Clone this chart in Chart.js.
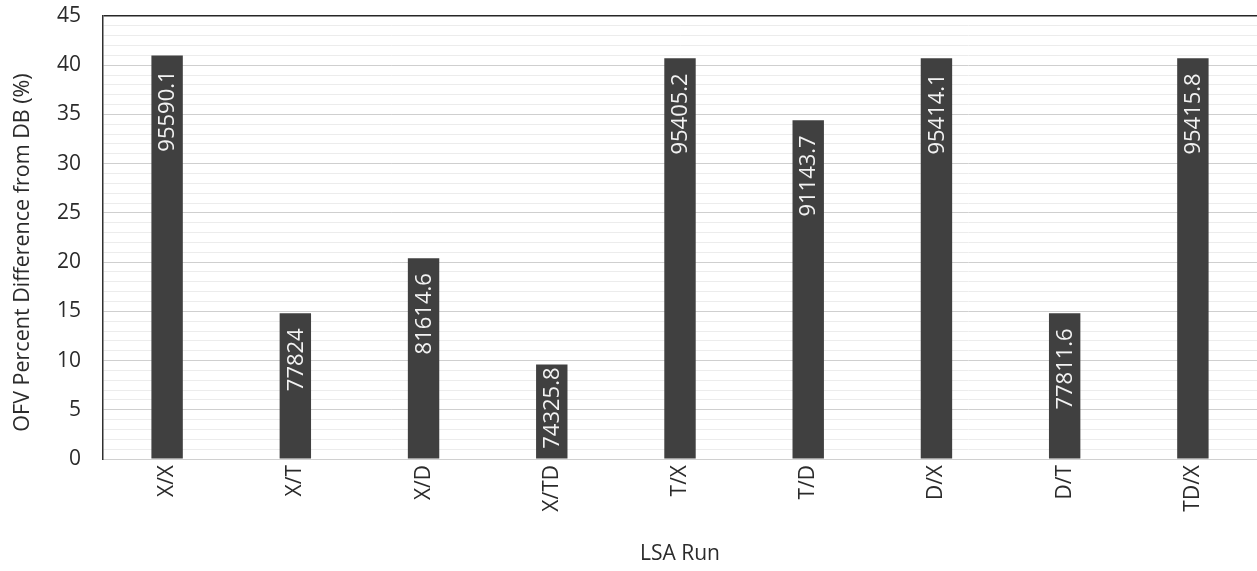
<!DOCTYPE html>
<html>
<head>
<meta charset="utf-8">
<script src="https://cdn.jsdelivr.net/npm/chart.js@4/dist/chart.umd.min.js"></script>
<style>
  html, body { margin: 0; padding: 0; background: #ffffff; }
  #wrap { width: 1257px; height: 571px; }
</style>
</head>
<body>
<div id="wrap"><canvas id="c" width="1257" height="571"></canvas></div>
<script>
// LSA runs and their objective function values
const runs = ['X/X', 'X/T', 'X/D', 'X/TD', 'T/X', 'T/D', 'D/X', 'D/T', 'TD/X'];
const pctDiff = [41.0, 14.8, 20.4, 9.6, 40.7, 34.4, 40.7, 14.8, 40.7];
const ofvValues = ['95590.1', '77824', '81614.6', '74325.8', '95405.2', '91143.7', '95414.1', '77811.6', '95415.8'];
const yMax = 45;
const yTitle = 'OFV Percent Difference from DB (%)';

const FONT = 'Open Sans';
const TEXT = '#2b2b2b';

// Writes the OFV value vertically inside the top of each bar,
// lifting it toward the bar's end when the bar is short
const barValueLabels = {
  id: 'barValueLabels',
  afterDatasetsDraw(chart) {
    const ctx = chart.ctx;
    const meta = chart.getDatasetMeta(0);
    ctx.save();
    ctx.font = '22px "' + FONT + '"';
    ctx.fillStyle = '#f2f2f2';
    ctx.textAlign = 'right';
    ctx.textBaseline = 'middle';
    meta.data.forEach((bar, i) => {
      const textLen = ctx.measureText(ofvValues[i]).width;
      const barLen = bar.base - bar.y;
      const offset = Math.max(3, Math.min(15, barLen - textLen - 17));
      ctx.save();
      ctx.translate(bar.x + 1, bar.y + offset);
      ctx.rotate(-Math.PI / 2);
      ctx.fillText(ofvValues[i], 0, 0);
      ctx.restore();
    });
    ctx.restore();
  }
};

// Vertical value-axis title, set a little below the plot's middle
const valueAxisTitle = {
  id: 'valueAxisTitle',
  afterDraw(chart) {
    const ctx = chart.ctx;
    const area = chart.chartArea;
    ctx.save();
    ctx.font = '21.5px "' + FONT + '"';
    ctx.fillStyle = TEXT;
    ctx.textAlign = 'center';
    ctx.textBaseline = 'middle';
    ctx.translate(23, (area.top + area.bottom) / 2 + 15);
    ctx.rotate(-Math.PI / 2);
    ctx.fillText(yTitle, 0, 0);
    ctx.restore();
  }
};

new Chart(document.getElementById('c'), {
  type: 'bar',
  data: {
    labels: runs,
    datasets: [{
      data: pctDiff,
      backgroundColor: '#404040',
      borderWidth: 0,
      categoryPercentage: 1.0,
      barPercentage: 0.245
    }]
  },
  options: {
    responsive: false,
    animation: false,
    layout: { padding: { top: 16, right: 0, bottom: 0, left: 0 } },
    plugins: {
      legend: { display: false },
      tooltip: { enabled: false }
    },
    scales: {
      x: {
        grid: { display: false, drawTicks: false },
        border: { color: '#d0d0d0', width: 1 },
        ticks: {
          color: TEXT,
          font: { family: FONT, size: 21 },
          minRotation: 90,
          maxRotation: 90,
          padding: 6,
          autoSkip: false
        },
        title: {
          display: true,
          text: 'LSA Run',
          color: TEXT,
          font: { family: FONT, size: 21 },
          padding: { top: 0, bottom: 4 }
        },
        afterFit(scale) {
          scale.height = 112;
          scale.paddingLeft = 0;
          scale.paddingRight = 0;
        }
      },
      y: {
        min: 0,
        max: yMax,
        border: { color: '#303030', width: 1.5 },
        grid: {
          drawTicks: false,
          color(ctx) {
            const v = ctx.tick.value;
            if (v === yMax) return '#262626';
            return v % 5 === 0 ? '#cfcfcf' : '#ececec';
          },
          lineWidth(ctx) {
            return ctx.tick.value === yMax ? 1.5 : 1;
          }
        },
        ticks: {
          stepSize: 1,
          autoSkip: false,
          color: TEXT,
          font: { family: FONT, size: 21 },
          padding: 22,
          callback(v) { return v % 5 === 0 ? String(v) : ''; }
        },
        title: { display: false },
        afterFit(scale) {
          scale.width = 103;
          scale.paddingTop = 0;
          scale.paddingBottom = 0;
        }
      }
    }
  },
  plugins: [barValueLabels, valueAxisTitle]
});
</script>
</body>
</html>
